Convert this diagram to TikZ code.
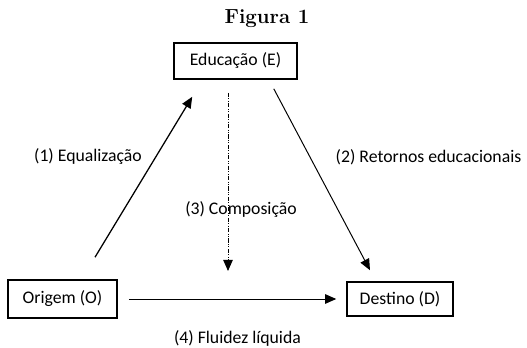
\documentclass[tikz,border=0pt]{standalone}
\usepackage{fontspec}
\setmainfont{Carlito}
\usetikzlibrary{arrows.meta}

\begin{document}
\begin{tikzpicture}[font=\fontsize{12.6}{15}\selectfont,
    box/.style={draw, line width=1.1pt, inner sep=0pt},
    arr/.style={line width=0.7pt, -{Triangle[length=0.28cm, width=0.24cm]}}]
\useasboundingbox (0, 0) rectangle (13.175, -8.7);

\node[font=\bfseries\fontsize{14.5}{17}\selectfont] (title) at (6.675, -0.46) {\fontspec{Latin Modern Roman}Figura 1};

\node[box, minimum width=3.075cm, minimum height=0.9cm] (e) at (5.8875, -1.525) {Educação (E)};
\node[box, minimum width=2.725cm, minimum height=0.95cm] (o) at (1.5625, -7.475) {Origem (O)};
\node[box, minimum width=2.65cm, minimum height=0.85cm] (d) at (10, -7.475) {Destino (D)};
\coordinate (comp) at (5.7, -6.775);

\draw[arr, line width=0.9pt] ([xshift=0.8125cm, yshift=0.55cm]o.north) -- ([xshift=0.475cm, yshift=-0.425cm]e.south west);
\draw[arr] ([xshift=-0.6cm, yshift=-0.225cm]e.south east) -- ([xshift=-0.75cm, yshift=0.275cm]d.north);
\draw[arr, densely dash dot dot] ([xshift=-0.1875cm, yshift=-0.325cm]e.south) -- (comp);
\draw[arr, shorten <=0.275cm, shorten >=0.25cm] (o) -- (d);

\node (l1) at (2.2, -3.925) {(1) Equalização};
\node (l2) at (10.7125, -3.925) {(2) Retornos educacionais};
\node (l3) at (6.025, -5.25) {(3) Composição};
\node (l4) at (5.9375, -8.45) {(4) Fluidez líquida};

\end{tikzpicture}
\end{document}
